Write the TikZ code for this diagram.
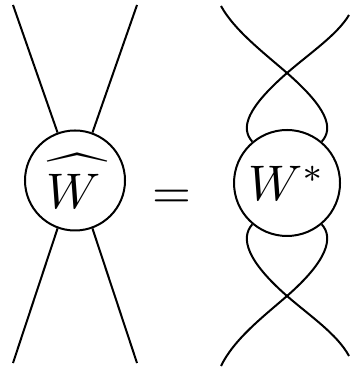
\documentclass[tikz,border=0pt]{standalone}
\usepackage{amsmath}
\newcommand{\flathat}[1]{\rule{0pt}{11.4pt}\rlap{\hspace{-0.4pt}\raisebox{1.5pt}[0pt][0pt]{\scalebox{1.2}[0.95]{$\widehat{\phantom{#1}}$}}}#1}
\tikzset{blob/.style={draw, circle, inner sep=0pt}}
\begin{document}
\begin{tikzpicture}[x=0.2pt,y=-0.2pt]
\useasboundingbox (0,0) rectangle (349,368);
\node[blob, minimum size=20pt] (what) at (75,180.5) {\kern-0.5pt$\flathat{W}$};
\node[blob, minimum size=21.2pt] (wstar) at (287,183) {$W^*$};
\node (eq) at (172,199) {$=$};
%
\coordinate (a1) at (13,5);
\coordinate (a2) at (137,5);
\coordinate (a3) at (13,363);
\coordinate (a4) at (137,363);
\draw (what.110) -- (a1);
\draw (what.70) -- (a2);
\draw (what.250) -- (a3);
\draw (what.290) -- (a4);
%
\coordinate (xtop) at (287,73);
\coordinate (xbot) at (287,296);
\coordinate (b1) at (221,6);
\coordinate (b2) at (349,15);
\coordinate (b3) at (221,366);
\coordinate (b4) at (349,356);
\draw (wstar.130) .. controls (240,128) and (247,108) .. (xtop)
	.. controls (310,53) and (337,35) .. (b2);
\draw (wstar.50) .. controls (334,128) and (327,108) .. (xtop)
	.. controls (264,53) and (234,30) .. (b1);
\draw (wstar.230) .. controls (240,238) and (247,261) .. (xbot)
	.. controls (310,316) and (337,334) .. (b4);
\draw (wstar.310) .. controls (334,238) and (327,261) .. (xbot)
	.. controls (264,316) and (234,339) .. (b3);
\end{tikzpicture}
\end{document}
